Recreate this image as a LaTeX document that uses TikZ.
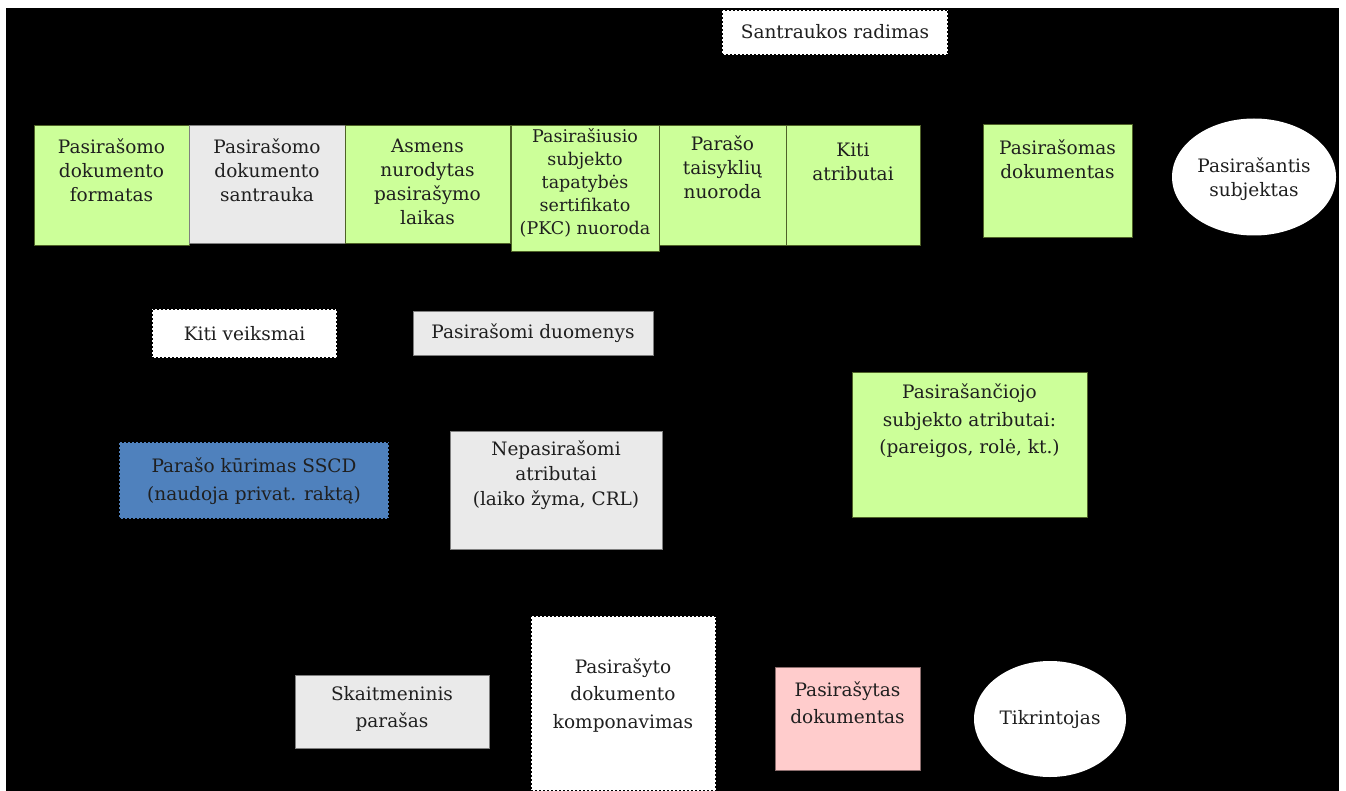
\documentclass[tikz,border=0pt]{standalone}
\usepackage{fontspec}
\setmainfont{DejaVu Serif}
\usetikzlibrary{fit,shapes.geometric}

\definecolor{attrgreen}{HTML}{CCFF99}
\definecolor{greenedge}{HTML}{4F6228}
\definecolor{palegrey}{HTML}{EAEAEA}
\definecolor{greyedge}{HTML}{7F7F7F}
\definecolor{docpink}{HTML}{FFCCCC}
\definecolor{pinkedge}{HTML}{8C6E6E}
\definecolor{sscdblue}{HTML}{4F81BD}

\tikzset{
  x=1pt, y=-1pt,
  area/.style={inner sep=0pt, line width=0.9pt},
  greenbox/.style={area, fill=attrgreen, draw=greenedge},
  greybox/.style={area, fill=palegrey, draw=greyedge},
  pinkbox/.style={area, fill=docpink, draw=pinkedge},
  stagebox/.style={area, fill=white, draw=black, line width=2pt,
                   dash pattern=on 2pt off 2pt},
  keybox/.style={area, fill=sscdblue, draw=black, line width=2pt,
                 dash pattern=on 2pt off 2pt},
  actor/.style={ellipse, fill=white, draw=none, inner sep=0pt},
  txt/.style={align=center, inner sep=0pt, text=black!88,
              font=\fontsize{18.5}{24}\selectfont},
  txtwide/.style={txt, font=\fontsize{18.5}{27.5}\selectfont},
}

\begin{document}
\begin{tikzpicture}
% page and dark canvas
\useasboundingbox (0,0) rectangle (1346,791);
\fill[white] (0,0) rectangle (1346,791);
\fill[black] (6,8) rectangle (1339,791);

% top row: components of the signed data
\node[greenbox, fit={(34,125) (189,245)}] (fmt) {};
\node[greybox,  fit={(189,125) (345,243)}] (dig) {};
\node[greenbox, fit={(345,125) (510,243)}] (time) {};
\node[greenbox, fit={(511,125) (659,251)}] (pkc) {};
\node[greenbox, fit={(659,125) (786,245)}] (rules) {};
\node[greenbox, fit={(786,125) (920,245)}] (other) {};
\node[greenbox, fit={(983,124) (1132,237)}] (doc) {};
\node[actor, minimum width=164pt, minimum height=117pt] (signer) at (1254,177) {};

\node[txt] (fmt-t)   at (111.5,170) {Pasirašomo\\dokumento\\formatas};
\node[txt] (dig-t)   at (267,170)   {Pasirašomo\\dokumento\\santrauka};
\node[txt] (time-t)  at (427.5,181.5) {Asmens\\nurodytas\\pasirašymo\\laikas};
\node[txt, font=\fontsize{17.5}{23}\selectfont] (pkc-t) at (585,182.5)
  {Pasirašiusio\\subjekto\\tapatybės\\sertifikato\\(PKC) nuoroda};
\node[txt] (rules-t) at (722.5,167.5) {Parašo\\taisyklių\\nuoroda};
\node[txt] (other-t) at (853,162)   {Kiti\\atributai};
\node[txt] (doc-t)   at (1057.5,159.5) {Pasirašomas\\dokumentas};
\node[txt] (signer-t) at (1254,179.5) {Pasirašantis\\subjektas};

% processing stages
\node[stagebox, fit={(722,10) (948,55)}] (hash) {};
\node[txt] (hash-t) at (835,32) {Santraukos radimas};

\node[stagebox, fit={(152,309) (337,358)}] (misc) {};
\node[txt] (misc-t) at (244.5,334) {Kiti veiksmai};

\node[greybox, fit={(413,311) (653,355)}] (data) {};
\node[txt] (data-t) at (533,333) {Pasirašomi duomenys};

\node[keybox, fit={(119,442) (389,519)}] (sscd) {};
\node[txtwide] (sscd-t) at (254,481) {Parašo kūrimas SSCD\\(naudoja privat. raktą)};

\node[greybox, fit={(450,431) (662,549)}] (unsig) {};
\node[txt, font=\fontsize{18.5}{25}\selectfont] (unsig-t) at (556,475)
  {Nepasirašomi\\atributai\\(laiko žyma, CRL)};

\node[greenbox, fit={(852,372) (1087,517)}] (sattr) {};
\node[txtwide] (sattr-t) at (969.5,421)
  {Pasirašančiojo\\subjekto atributai:\\(pareigos, rolė, kt.)};

% bottom row: result of signing
\node[greybox, fit={(295,675) (489,748)}] (sig) {};
\node[txtwide] (sig-t) at (392,709) {Skaitmeninis\\parašas};

\node[stagebox, fit={(531,616) (716,791)}] (compose) {};
\node[txtwide] (compose-t) at (623,695.5) {Pasirašyto\\dokumento\\komponavimas};

\node[pinkbox, fit={(775,667) (920,770)}] (signed) {};
\node[txtwide] (signed-t) at (847.5,702.5) {Pasirašytas\\dokumentas};

\node[actor, minimum width=152pt, minimum height=116pt] (verifier) at (1050,719) {};
\node[txt] (verifier-t) at (1050,720) {Tikrintojas};
\end{tikzpicture}
\end{document}
